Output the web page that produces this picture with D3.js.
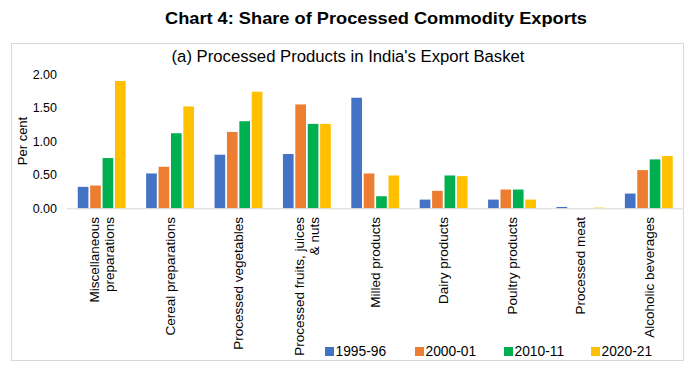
<!DOCTYPE html>
<html>
<head>
<meta charset="utf-8">
<script src="https://cdn.jsdelivr.net/npm/d3@7"></script>
<style>
  body { margin: 0; background: #fff; }
  svg { display: block; font-family: "Liberation Sans", Arial, sans-serif; }
</style>
</head>
<body>
<div id="chart"></div>
<script>
// categories (each label split into its lines)
const categories = [
    ['Miscellaneous', 'preparations'],
    ['Cereal preparations'],
    ['Processed vegetables'],
    ['Processed fruits, juices', '& nuts'],
    ['Milled products'],
    ['Dairy products'],
    ['Poultry products'],
    ['Processed meat'],
    ['Alcoholic beverages']
];
const seriesNames = ['1995-96', '2000-01', '2010-11', '2020-21'];
const seriesColors = ['#4472C4', '#ED7D31', '#00B050', '#FFC000'];

// values per series, in category order (per cent)
const v1995 = [0.32, 0.52, 0.80, 0.81, 1.65, 0.13, 0.13, 0.02, 0.22];
const v2000 = [0.34, 0.62, 1.14, 1.55, 0.52, 0.26, 0.28, 0.00, 0.57];
const v2010 = [0.75, 1.12, 1.30, 1.26, 0.18, 0.49, 0.28, 0.00, 0.73];
const v2020 = [1.90, 1.52, 1.74, 1.26, 0.49, 0.48, 0.13, 0.01, 0.78];
const seriesValues = [v1995, v2000, v2010, v2020];

const yTicks = [0, 0.5, 1.0, 1.5, 2.0];

const W = 696, H = 374;
const svg = d3.select('#chart').append('svg').attr('width', W).attr('height', H);

// title
svg.append('text')
    .attr('x', 376).attr('y', 24)
    .attr('text-anchor', 'middle')
    .attr('textLength', 422).attr('lengthAdjust', 'spacingAndGlyphs')
    .style('font-size', '16.5px').style('font-weight', 'bold').style('fill', '#000')
    .text('Chart 4: Share of Processed Commodity Exports');

// chart frame
svg.append('rect')
    .attr('x', 11.5).attr('y', 43.5).attr('width', 672).attr('height', 317)
    .attr('fill', '#fff').attr('stroke', '#d9d9d9').attr('stroke-width', 1);

svg.append('text')
    .attr('x', 348).attr('y', 62)
    .attr('text-anchor', 'middle')
    .style('font-size', '16.7px').style('fill', '#000')
    .text("(a) Processed Products in India's Export Basket");

// scales
const x0 = d3.scaleBand()
    .domain(d3.range(categories.length))
    .range([67.5, 683])
    .paddingInner(0.3)
    .paddingOuter(0.15);

const x1 = d3.scaleBand()
    .domain(d3.range(seriesNames.length))
    .range([0, x0.bandwidth()])
    .paddingInner(0.14);

const y = d3.scaleLinear().domain([0, 2]).range([208.3, 74.3]);

// y axis labels
svg.append('g').selectAll('text')
    .data(yTicks)
    .enter().append('text')
    .attr('x', 57).attr('y', d => y(d)).attr('dy', '0.35em')
    .attr('text-anchor', 'end')
    .style('font-size', '12.5px').style('fill', '#000')
    .text(d => d3.format('.2f')(d));

svg.append('text')
    .attr('transform', 'translate(22,141) rotate(-90)')
    .attr('text-anchor', 'middle')
    .attr('dy', '0.35em')
    .style('font-size', '13px').style('fill', '#000')
    .text('Per cent');

// bars
const groups = svg.append('g').selectAll('g')
    .data(categories.map((c, i) => i))
    .enter().append('g')
    .attr('transform', i => `translate(${x0(i)},0)`);

groups.selectAll('rect')
    .data(i => seriesValues.map((vals, s) => ({ s, v: vals[i] })))
    .enter().append('rect')
    .attr('x', d => x1(d.s))
    .attr('width', x1.bandwidth())
    .attr('y', d => y(d.v))
    .attr('height', d => y(0) - y(d.v))
    .attr('fill', d => seriesColors[d.s]);

// baseline
svg.append('line')
    .attr('x1', 67).attr('x2', 683)
    .attr('y1', y(0) + 0.5).attr('y2', y(0) + 0.5)
    .attr('stroke', '#d9d9d9').attr('stroke-width', 1);

// category labels, rotated, reading upward
const lineGap = 15;
categories.forEach((lines, i) => {
    const cx = x0(i) + x0.bandwidth() / 2;
    const t = svg.append('text')
        .attr('transform', `translate(${cx},217) rotate(-90)`)
        .attr('text-anchor', 'end')
        .style('font-size', '13.5px').style('fill', '#000');
    const off = -(lines.length - 1) * lineGap / 2;
    lines.forEach((ln, k) => {
        t.append('tspan')
            .attr('x', 0)
            .attr('y', off + k * lineGap)
            .attr('dy', '0.35em')
            .text(ln);
    });
});

// legend
const legendX = [325, 415, 504, 591];
const legend = svg.append('g').selectAll('g')
    .data(seriesNames)
    .enter().append('g')
    .attr('transform', (d, i) => `translate(${legendX[i]},351.5)`);

legend.append('rect')
    .attr('x', 0).attr('y', -4.5).attr('width', 9).attr('height', 9)
    .attr('fill', (d, i) => seriesColors[i]);

legend.append('text')
    .attr('x', 10.5).attr('y', 0).attr('dy', '0.35em')
    .style('font-size', '13.8px').style('fill', '#000')
    .text(d => d);
</script>
</body>
</html>
